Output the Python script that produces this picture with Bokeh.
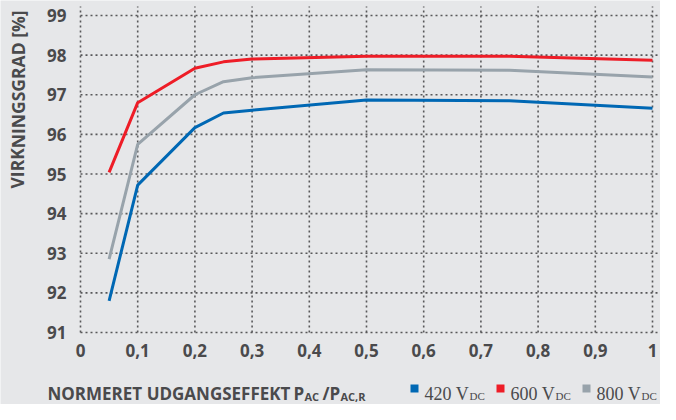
from bokeh.plotting import figure
from bokeh.models import Range1d
from bokeh.core.properties import value
from bokeh.embed import file_html
from bokeh.resources import INLINE

# ---- data ----
x_load = [0.05, 0.1, 0.2, 0.25, 0.3, 0.5, 0.75, 1.0]
eff_420 = [91.8, 94.72, 96.17, 96.54, 96.61, 96.87, 96.85, 96.66]
eff_600 = [95.04, 96.8, 97.67, 97.83, 97.9, 97.97, 97.97, 97.87]
eff_800 = [92.85, 95.75, 97.0, 97.33, 97.43, 97.63, 97.62, 97.45]
series_names = ["420 V", "600 V", "800 V"]
series_colors = ["#0068b4", "#ee1d27", "#98a3ab"]
x_ticks = [0, 0.1, 0.2, 0.3, 0.4, 0.5, 0.6, 0.7, 0.8, 0.9, 1.0]
x_tick_labels = ["0", "0,1", "0,2", "0,3", "0,4", "0,5", "0,6", "0,7", "0,8", "0,9", "1"]
y_ticks = [91, 92, 93, 94, 95, 96, 97, 98, 99]
y_tick_labels = ["91", "92", "93", "94", "95", "96", "97", "98", "99"]

BG = "#e6e7e9"
TXT = "#4a4a4c"
GRID = "#58585a"
W, H = 660, 404

# pixel layout of the plotting area inside the figure
PX0, PX1 = 80, 652      # x = 0 and x = 1
PY99, PY91 = 15, 332    # y = 99 and y = 91
sx = (PX1 - PX0) / 1.0
sy = (PY91 - PY99) / 8.0
X0 = 0 - PX0 / sx
X1 = 1 + (W - PX1) / sx
Y1 = 99 + PY99 / sy
Y0 = 91 - (H - PY91) / sy


def dx(px):
    return X0 + px / sx


def dy(py):
    return Y1 - py / sy


p = figure(width=W, height=H, output_backend="svg", toolbar_location=None,
           x_range=Range1d(X0, X1), y_range=Range1d(Y0, Y1),
           min_border_left=0, min_border_right=0, min_border_top=0, min_border_bottom=0,
           background_fill_color=BG, border_fill_color=BG, outline_line_color=None)
p.axis.visible = False
p.grid.visible = False

# dotted grid
grid_top = dy(6)
p.segment(x0=x_ticks, x1=x_ticks, y0=[y_ticks[0]] * len(x_ticks), y1=[grid_top] * len(x_ticks),
          line_color=GRID, line_width=1.6, line_dash="2 3")
p.segment(x0=[x_ticks[0]] * len(y_ticks), x1=[X1] * len(y_ticks), y0=y_ticks, y1=y_ticks,
          line_color=GRID, line_width=1.6, line_dash="2 3")

# series
for ys, c in zip([eff_420, eff_600, eff_800], series_colors):
    p.line(x_load, ys, line_color=c, line_width=3)

# tick labels
p.text(x=x_ticks, y=[dy(350)] * len(x_ticks), text=x_tick_labels,
       text_font=value("Open Sans"), text_font_style="bold", text_font_size="17px",
       text_color=TXT, text_align="center", text_baseline="middle")
p.text(x=[dx(66)] * len(y_ticks), y=y_ticks, text=y_tick_labels,
       text_font=value("Open Sans"), text_font_style="bold", text_font_size="17px",
       text_color=TXT, text_align="right", text_baseline="middle")


def lab(txt, px, py, size, color=TXT, font="Open Sans", style="bold", align="left",
        baseline="alphabetic", angle=0.0):
    p.text(x=[dx(px)], y=[dy(py)], text=[txt], text_font=value(font), text_font_style=style,
           text_font_size=size, text_color=color, text_align=align,
           text_baseline=baseline, angle=angle)


# y axis title
lab("VIRKNINGSGRAD [%]", 17, 99, "17.5px", align="center", baseline="middle", angle=1.5707963)

# x axis title with subscripts
lab("NORMERET UDGANGSEFFEKT", 47, 393, "17px")
lab("P", 293, 393, "17px")
lab("AC", 304, 396, "11px")
lab("/", 322, 393, "17px")
lab("P", 329, 393, "17px")
lab("AC,R", 340, 396, "11px")

# legend
leg_x = [410, 496, 582]
for nm, c, lx in zip(series_names, series_colors, leg_x):
    p.scatter(x=[dx(lx + 4)], y=[dy(388)], marker="square", size=8, fill_color=c, line_color=None)
    lab(nm, lx + 14, 393, "18px", font="Liberation Serif", style="normal")
    lab("DC", lx + 59, 395, "11px", font="Liberation Serif", style="normal")

open("out.html", "w").write(file_html(p, INLINE))
